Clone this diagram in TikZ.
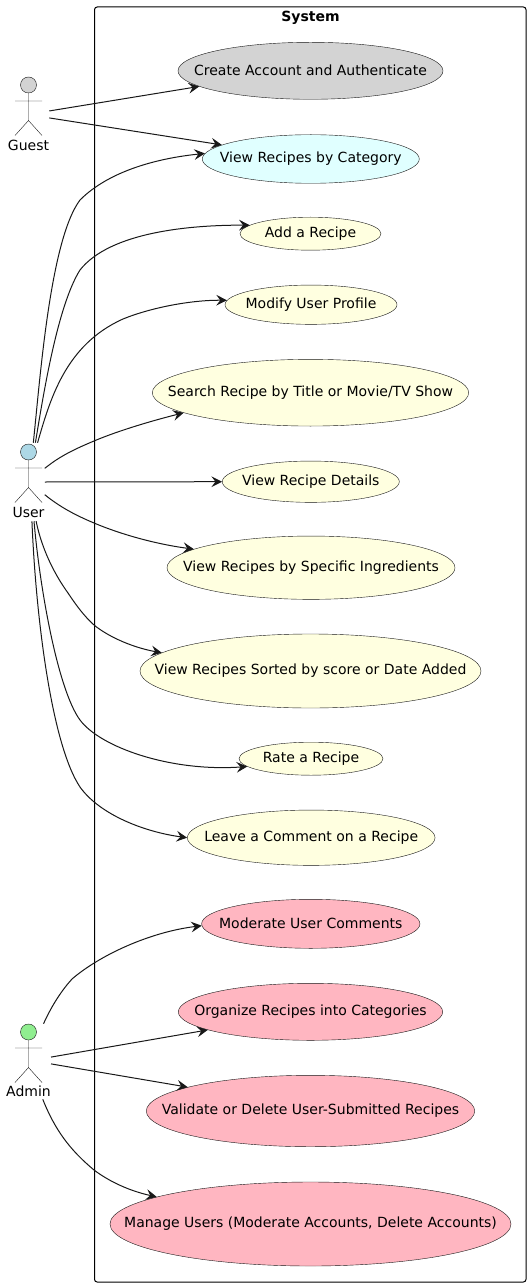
\documentclass[tikz,border=0pt]{standalone}
\usepackage{fontspec}
\setmainfont{DejaVu Sans}
\usetikzlibrary{shapes.geometric, arrows.meta}
\definecolor{inkline}{HTML}{181818}
\definecolor{guestgray}{HTML}{D3D3D3}
\definecolor{catcyan}{HTML}{E0FFFF}
\definecolor{caseyellow}{HTML}{FFFFE0}
\definecolor{adminpink}{HTML}{FFB6C1}
\definecolor{userblue}{HTML}{ADD8E6}
\definecolor{admingreen}{HTML}{90EE90}
\newcommand{\casetext}[1]{\raisebox{0.75pt}{\makebox[0pt]{#1}}}
\tikzstyle{usecase} = [ellipse, draw=inkline, line width=0.3pt, inner sep=0pt, font=\fontsize{10.5}{12}\selectfont]
\tikzstyle{guestcase} = [usecase, fill=guestgray]
\tikzstyle{catcase} = [usecase, fill=catcyan]
\tikzstyle{usercase} = [usecase, fill=caseyellow]
\tikzstyle{admincase} = [usecase, fill=adminpink]
\tikzstyle{actorbox} = [rectangle, draw=none, inner sep=0pt]
\tikzstyle{actorlabel} = [inner sep=0pt, font=\fontsize{10.5}{12}\selectfont]
\tikzstyle{arrow} = [line width=0.75pt, draw=inkline, -{Stealth[length=8pt, width=8pt, inset=3pt]}]
\tikzset{
  casesize/.style 2 args={minimum width=#1*0.75pt, minimum height=#2*0.75pt},
  boxsize/.style 2 args={minimum width=#1*0.75pt, minimum height=#2*0.75pt},
  stickman/.pic={
    \draw[draw=inkline, line width=0.3pt, pic actions] (0,0) circle (8);
    \draw[draw=inkline, line width=0.3pt] (0,8) -- (0,35.5)
      (-13.5,16) -- (13.5,16) (-13.5,50.5) -- (0,35.5) -- (13.5,50.5);
  }
}

\begin{document}
\begin{tikzpicture}[x=0.75pt, y=-0.75pt]
  \useasboundingbox (0,0) rectangle (531,1287);
  % System frame
  \node[draw=black, line width=0.75pt, rounded corners=2pt, inner sep=0pt, boxsize={431.5}{1275}] (system) at (310.25,644.5) {};
  \node[inner sep=0pt, font=\fontsize{10.5}{12}\selectfont\bfseries] (systemtitle) at (310.5,18) {System};
  % Actors
  \pic[fill=guestgray] at (28.5,85) {stickman};
  \pic[fill=userblue] at (28.5,452) {stickman};
  \pic[fill=admingreen] at (28.5,1032) {stickman};
  \node[actorlabel] (guestlabel) at (28.5,145) {Guest};
  \node[actorlabel] (userlabel) at (28.5,512) {User};
  \node[actorlabel] (adminlabel) at (28.5,1091) {Admin};
  \node[actorbox, boxsize={41}{76}] (guest) at (28.5,115) {};
  \node[actorbox, boxsize={32}{78}] (user) at (28.5,482) {};
  \node[actorbox, boxsize={45}{75}] (admin) at (28.25,1061.5) {};
  % Use cases
  \node[guestcase, casesize={265}{57}] (create) at (310.5,70.8) {\casetext{Create Account and Authenticate}};
  \node[catcase, casesize={217}{48.6}] (category) at (310.8,159) {\casetext{View Recipes by Category}};
  \node[usercase, casesize={141}{33}] (addrecipe) at (310.5,233.7) {\casetext{Add a Recipe}};
  \node[usercase, casesize={172}{39.3}] (profile) at (311,304.7) {\casetext{Modify User Profile}};
  \node[usercase, casesize={316.4}{66.7}] (search) at (310.5,392.7) {\casetext{Search Recipe by Title or Movie/TV Show}};
  \node[usercase, casesize={177}{41.3}] (details) at (310.8,481.7) {\casetext{View Recipe Details}};
  \node[usercase, casesize={288}{63.3}] (ingredients) at (311,567.7) {\casetext{View Recipes by Specific Ingredients}};
  \node[usercase, casesize={341}{74}] (sorted) at (310.5,671) {\casetext{View Recipes Sorted by score or Date Added}};
  \node[usercase, casesize={144}{33}] (rate) at (311,758.7) {\casetext{Rate a Recipe}};
  \node[usercase, casesize={247.7}{55.3}] (comment) at (311.2,837.7) {\casetext{Leave a Comment on a Recipe}};
  \node[admincase, casesize={218.3}{49}] (moderate) at (310.8,923.8) {\casetext{Moderate User Comments}};
  \node[admincase, casesize={264.4}{57}] (organize) at (310.5,1011.8) {\casetext{Organize Recipes into Categories}};
  \node[admincase, casesize={328.4}{71.4}] (validate) at (310.5,1111) {\casetext{Validate or Delete User-Submitted Recipes}};
  \node[admincase, casesize={401}{84}] (manage) at (310.5,1224) {\casetext{Manage Users (Moderate Accounts, Delete Accounts)}};
  % Guest arrows
  \draw[arrow] (guest.11) -- (create.188);
  \draw[arrow] (guest.-8) -- (category.171);
  % User arrows
  \draw[arrow] (user.83) .. controls (40,380) and (50,240) .. (80,200) .. controls (110,170) and (160,158) .. (category.177.4);
  \draw[arrow] (user.80.5) .. controls (44,390) and (58,305) .. (80,270) .. controls (110,232) and (190,225) .. (addrecipe.172.9);
  \draw[arrow] (user.77) .. controls (50,400) and (65,345) .. (123,319) .. controls (150,308) and (190,300) .. (profile.177.3);
  \draw[arrow] (user.40) .. controls (60,456) and (75,449) .. (94,441) .. controls (120,430) and (155,420) .. (search.189);
  \draw[arrow] (user.0) -- (details.180);
  \draw[arrow] (user.-38) .. controls (60,507) and (75,515) .. (94,523) .. controls (120,534) and (155,544) .. (ingredients.171.6);
  \draw[arrow] (user.-79) .. controls (42,550) and (55,575) .. (68,593) .. controls (76,605) and (84,616) .. (94,625) .. controls (110,638) and (135,648) .. (sorted.173.7);
  \draw[arrow] (user.-82) .. controls (40,590) and (58,690) .. (80,720) .. controls (100,747) and (170,772) .. (rate.187.4);
  \draw[arrow] (user.-85) .. controls (36,620) and (52,745) .. (80,787) .. controls (100,815) and (145,832) .. (comment.180);
  % Admin arrows
  \draw[arrow] (admin.68) .. controls (52,1005) and (62,990) .. (72,979) .. controls (100,955) and (150,932) .. (moderate.181.2);
  \draw[arrow] (admin.11.5) -- (organize.190);
  \draw[arrow] (admin.-6.5) -- (validate.169.9);
  \draw[arrow] (admin.-69.5) .. controls (55,1130) and (70,1150) .. (94,1170) .. controls (110,1182) and (130,1191) .. (manage.170.8);
\end{tikzpicture}
\end{document}
